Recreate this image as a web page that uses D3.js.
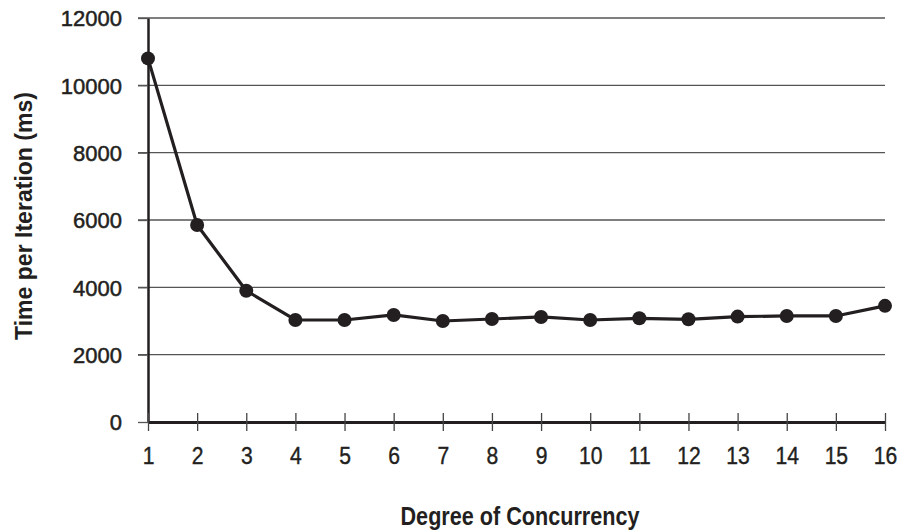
<!DOCTYPE html>
<html>
<head>
<meta charset="utf-8">
<script src="https://cdn.jsdelivr.net/npm/d3@7"></script>
<style>
  body { margin: 0; background: #fff; }
  text { fill: #231f20; }
</style>
</head>
<body>
<div id="chart"></div>
<script>
// data
const concurrency = [1, 2, 3, 4, 5, 6, 7, 8, 9, 10, 11, 12, 13, 14, 15, 16];
const timeMs = [10800, 5850, 3900, 3030, 3030, 3180, 3000, 3060, 3120, 3030, 3080, 3050, 3130, 3150, 3150, 3450];
const yTicks = [0, 2000, 4000, 6000, 8000, 10000, 12000];

const w = 901, h = 530;
const margin = { top: 18, right: 16, bottom: 108, left: 148 };
const font = '"Liberation Sans", Arial, sans-serif';

let svg = d3.select("#chart")
  .append("svg")
  .attr("width", w)
  .attr("height", h)
  .style("font-family", font);

const x = d3.scaleLinear().domain([1, 16]).range([margin.left, w - margin.right]);
const y = d3.scaleLinear().domain([0, 12000]).range([h - margin.bottom, margin.top]);

// horizontal gridlines
svg.append("g")
  .selectAll("line")
  .data(yTicks.slice(1))
  .join("line")
  .attr("x1", margin.left - 10)
  .attr("x2", w - margin.right)
  .attr("y1", d => y(d))
  .attr("y2", d => y(d))
  .attr("stroke", "#555")
  .attr("stroke-width", 1.3);

// y axis
let yAxis = svg.append("g")
  .attr("transform", `translate(${margin.left},0)`)
  .call(d3.axisLeft(y).tickValues(yTicks).tickFormat(d3.format("d"))
    .tickSize(10).tickPadding(16).tickSizeOuter(0));
yAxis.select(".domain").attr("stroke", "#231f20").attr("stroke-width", 2.5);
yAxis.selectAll(".tick line").attr("stroke", "#555").attr("stroke-width", 1.3);
yAxis.selectAll(".tick text")
  .style("font-family", font)
  .style("font-size", "22px")
  .attr("fill", "#231f20")
  .attr("stroke", "#231f20")
  .attr("stroke-width", 0.5)
  .attr("dy", "0.36em");

// x axis
let xAxis = svg.append("g")
  .attr("transform", `translate(0,${y(0)})`)
  .call(d3.axisBottom(x).tickValues(concurrency).tickFormat(d3.format("d"))
    .tickSize(0).tickPadding(25).tickSizeOuter(0));
xAxis.select(".domain").attr("stroke", "#231f20").attr("stroke-width", 3);
xAxis.selectAll(".tick text")
  .style("font-family", font)
  .style("font-size", "24px")
  .attr("fill", "#231f20")
  .attr("stroke", "#231f20")
  .attr("stroke-width", 0.4)
  .attr("transform", "scale(0.88,1)");
xAxis.selectAll(".tick")
  .append("line")
  .attr("y1", -9)
  .attr("y2", 9)
  .attr("stroke", "#444")
  .attr("stroke-width", 1.3);

// line + markers
svg.append("path")
  .datum(concurrency.map((c, i) => [c, timeMs[i]]))
  .attr("fill", "none")
  .attr("stroke", "#231f20")
  .attr("stroke-width", 3.2)
  .attr("stroke-linejoin", "round")
  .attr("d", d3.line().x(d => x(d[0])).y(d => y(d[1])));

svg.append("g")
  .selectAll("circle")
  .data(concurrency)
  .join("circle")
  .attr("cx", d => x(d))
  .attr("cy", (d, i) => y(timeMs[i]))
  .attr("r", 7)
  .attr("fill", "#231f20");

// axis titles
svg.append("text")
  .attr("x", 520)
  .attr("y", 525)
  .attr("text-anchor", "middle")
  .attr("textLength", 239)
  .attr("lengthAdjust", "spacingAndGlyphs")
  .style("font-size", "25px")
  .style("font-weight", "bold")
  .text("Degree of Concurrency");

svg.append("text")
  .attr("transform", "translate(32,216) rotate(-90)")
  .attr("text-anchor", "middle")
  .attr("textLength", 248)
  .attr("lengthAdjust", "spacingAndGlyphs")
  .style("font-size", "24px")
  .style("font-weight", "bold")
  .text("Time per Iteration (ms)");
</script>
</body>
</html>
